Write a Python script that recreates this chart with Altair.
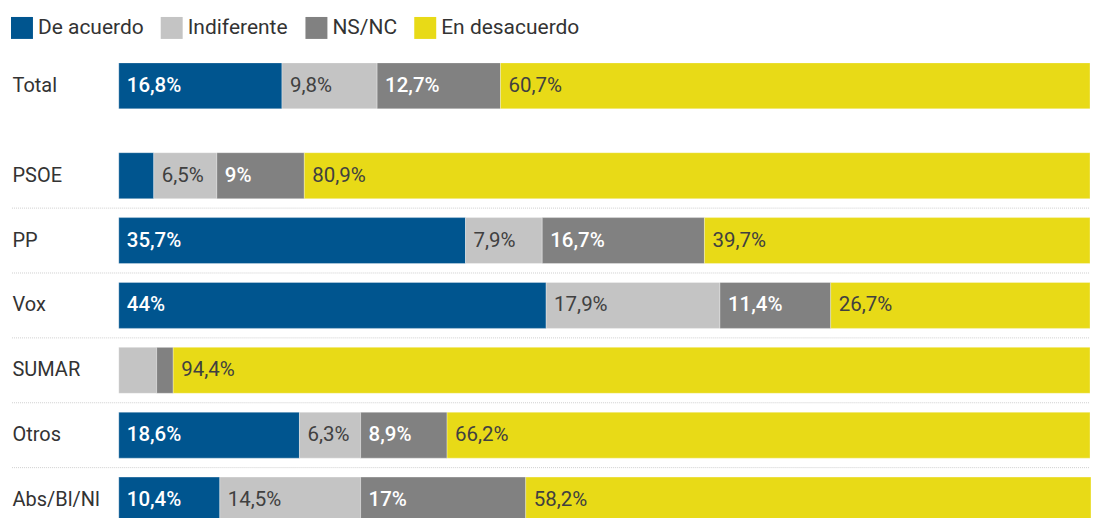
import altair as alt
import pandas as pd

groups = ["Total", "PSOE", "PP", "Vox", "SUMAR", "Otros", "Abs/Bl/Nl"]
answers = ["De acuerdo", "Indiferente", "NS/NC", "En desacuerdo"]
de_acuerdo = [16.8, 3.6, 35.7, 44.0, 0.0, 18.6, 10.4]
indiferente = [9.8, 6.5, 7.9, 17.9, 3.9, 6.3, 14.5]
ns_nc = [12.7, 9.0, 16.7, 11.4, 1.7, 8.9, 17.0]
desacuerdo = [60.7, 80.9, 39.7, 26.7, 94.4, 66.2, 58.2]
colors = ["#00558f", "#c4c4c4", "#818181", "#e8da17"]
light_text = ["De acuerdo", "NS/NC"]

series = [de_acuerdo, indiferente, ns_nc, desacuerdo]
rows = []
for gi, g in enumerate(groups):
    for ai, a in enumerate(answers):
        rows.append({"grupo": g, "respuesta": a, "orden": ai,
                     "valor": series[ai][gi]})
df = pd.DataFrame(rows)

FONT = "Roboto"
W = 973
STEP = 65
BAR = 46
LPAD = 107


def panel(sub_groups, show_rules, with_legend):
    base = alt.Chart(df).transform_filter(
        alt.FieldOneOfPredicate(field="grupo", oneOf=sub_groups)
    ).transform_stack(
        stack="valor", groupby=["grupo"], as_=["x0", "x1"],
        sort=[alt.SortField("orden", order="ascending")]
    ).transform_calculate(
        etiqueta="replace(format(datum.valor, '.1~f'), '.', ',') + '%'"
    )
    yenc = alt.Y(
        "grupo:N", sort=sub_groups, title=None,
        scale=alt.Scale(paddingInner=0, paddingOuter=0),
        axis=alt.Axis(labelAlign="left", labelPadding=LPAD, ticks=False,
                      domain=False, labelFontSize=20, labelColor="#333333",
                      labelFont=FONT),
    )
    xscale = alt.Scale(domain=[0, 100], nice=False, zero=True)
    color_kwargs = dict(scale=alt.Scale(domain=answers, range=colors), sort=answers)
    if with_legend:
        color_kwargs["legend"] = alt.Legend(
            title=None, orient="none", legendX=-108, legendY=-36.5,
            direction="horizontal", padding=0,
            symbolType="square", symbolSize=484, symbolStrokeWidth=0,
            symbolOpacity=1, labelFontSize=21, labelFont=FONT,
            labelColor="#333333", columnPadding=17, labelOffset=5,
        )
    bars = base.mark_bar(size=BAR, stroke="#ffffff", strokeWidth=0.6,
                         strokeOpacity=0.5).encode(
        x=alt.X("x0:Q", scale=xscale, axis=None),
        x2="x1:Q",
        y=yenc,
        color=alt.Color("respuesta:N", **color_kwargs),
    )
    labelled = base.transform_filter("datum.valor >= 5")
    light = labelled.transform_filter(
        alt.FieldOneOfPredicate(field="respuesta", oneOf=light_text)
    ).mark_text(
        align="left", baseline="middle", dx=8, fontSize=20.5, font=FONT,
        fontWeight=500, color="#ffffff"
    ).encode(
        x=alt.X("x0:Q", scale=xscale, axis=None),
        y=alt.Y("grupo:N", sort=sub_groups),
        text="etiqueta:N",
    )
    dark = labelled.transform_filter(
        {"not": alt.FieldOneOfPredicate(field="respuesta", oneOf=light_text)}
    ).mark_text(
        align="left", baseline="middle", dx=8, fontSize=20.5, font=FONT,
        color="#404040"
    ).encode(
        x=alt.X("x0:Q", scale=xscale, axis=None),
        y=alt.Y("grupo:N", sort=sub_groups),
        text="etiqueta:N",
    )
    layers = [bars, light, dark]
    if show_rules:
        rules = base.transform_filter(
            alt.FieldOneOfPredicate(field="grupo", oneOf=sub_groups[1:])
        ).transform_filter("datum.orden == 0").mark_rule(
            color="#cfcfcf", strokeDash=[1, 1], strokeWidth=1
        ).encode(
            y=alt.Y("grupo:N", sort=sub_groups, bandPosition=0),
            x=alt.value(-LPAD),
            x2=alt.value(W),
        )
        layers.append(rules)
    return alt.layer(*layers).properties(width=W, height=STEP * len(sub_groups))


top = panel(groups[:1], False, True)
bottom = panel(groups[1:], True, False)

chart = alt.vconcat(top, bottom, spacing=25).properties(
    padding={"left": 3, "top": 8, "right": 0, "bottom": 0}
).configure(font=FONT).configure_view(stroke="transparent", strokeWidth=0)

chart.save("out.html", embed_options={"renderer": "svg", "actions": False})
